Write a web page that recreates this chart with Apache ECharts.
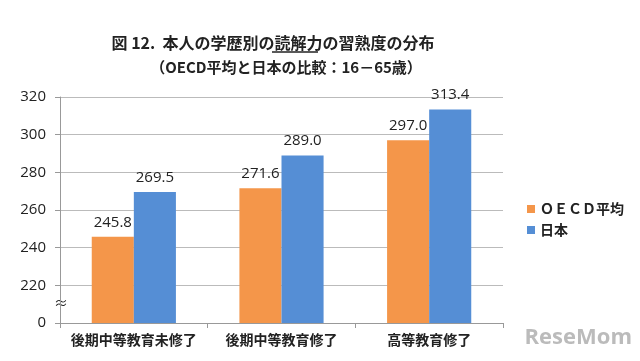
<!DOCTYPE html>
<html><head><meta charset="utf-8">
<script src="https://cdn.jsdelivr.net/npm/echarts@6/dist/echarts.min.js"></script>
<style>html,body{margin:0;padding:0;background:#fff}#c{width:640px;height:361px}</style>
</head><body><div id="c"></div>
<script>
var categories = ['後期中等教育未修了', '後期中等教育修了', '高等教育修了'];
var oecdValues = [245.8, 271.6, 297.0];
var japanValues = [269.5, 289.0, 313.4];
var seriesNames = ['ＯＥＣＤ平均', '日本'];
var titleText = '図 12.  本人の学歴別の読解力の習熟度の分布';
var subtitleText = '（OECD平均と日本の比較：16－65歳）';

var chart = echarts.init(document.getElementById('c'));
var font = '"Noto Sans CJK JP", "Noto Sans", sans-serif';
var numFont = '"Open Sans", sans-serif';
function fmt(p) { return p.value.toFixed(1); }
chart.setOption({
  animation: false,
  backgroundColor: '#fff',
  title: [
    { text: titleText, left: 268, top: 30, textAlign: 'center',
      textStyle: { fontSize: 16, fontWeight: 'bold', color: '#222', fontFamily: font } },
    { text: subtitleText, left: 281, top: 55, textAlign: 'center',
      textStyle: { fontSize: 15, fontWeight: 'bold', color: '#222', fontFamily: font } }
  ],
  legend: {
    orient: 'vertical', left: 522, top: 197, itemWidth: 8, itemHeight: 8, itemGap: 7,
    icon: 'rect',
    textStyle: { fontSize: 14, fontWeight: 'bold', color: '#222', fontFamily: font },
    data: seriesNames
  },
  grid: { left: 60, right: 137, top: 97, bottom: 38 },
  xAxis: {
    type: 'category', data: categories,
    axisLine: { lineStyle: { color: '#999' } },
    axisTick: { show: true, length: 5, lineStyle: { color: '#999' } },
    axisLabel: { interval: 0, fontSize: 14, fontWeight: 'bold', color: '#222', fontFamily: font, margin: 10 }
  },
  yAxis: {
    type: 'value', min: 200, max: 320, interval: 20,
    axisLine: { show: true, lineStyle: { color: '#999' } },
    axisTick: { show: true, length: 5, lineStyle: { color: '#999' } },
    splitLine: { lineStyle: { color: '#bbb' } },
    axisLabel: { fontSize: 15, color: '#222', fontFamily: numFont, margin: 14,
      formatter: function (v) { return v === 200 ? '0' : String(v); } }
  },
  series: [
    { name: seriesNames[0], type: 'bar', data: oecdValues, barGap: '0%', barCategoryGap: '43%',
      itemStyle: { color: '#F4964A' },
      label: { show: true, position: 'top', distance: 7, fontSize: 15, color: '#222',
        fontFamily: numFont, formatter: fmt } },
    { name: seriesNames[1], type: 'bar', data: japanValues,
      itemStyle: { color: '#558ED5' },
      label: { show: true, position: 'top', distance: 7, fontSize: 15, color: '#222',
        fontFamily: numFont, formatter: fmt } }
  ],
  graphic: [
    { type: 'text', left: 54, top: 296, style: { text: '≈', fontSize: 14, fill: '#222', fontFamily: font } },
    { type: 'line', shape: { x1: 272, y1: 52, x2: 318, y2: 52 }, style: { stroke: '#222', lineWidth: 1.5 } },
    { type: 'text', right: 8, bottom: 12, style: { text: 'ReseMom', fontSize: 22, fontWeight: 'bold', fill: '#bbb', fontFamily: numFont } }
  ]
});
</script></body></html>
